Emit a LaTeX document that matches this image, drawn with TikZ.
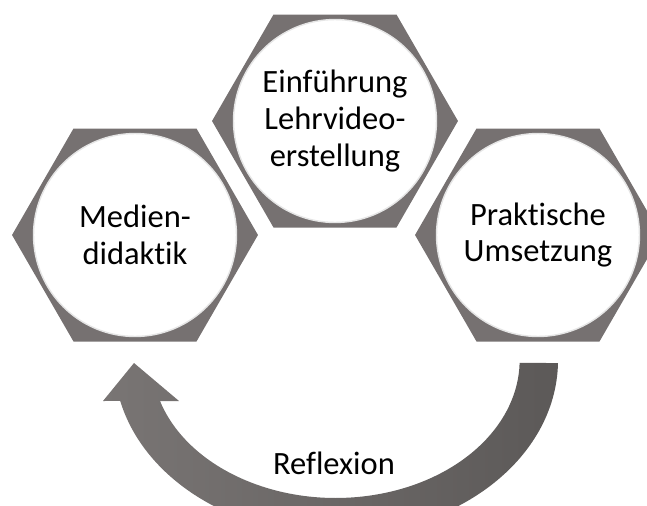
\documentclass[tikz,border=0pt]{standalone}
\usepackage{fontspec}
\setmainfont{Carlito}[Ligatures=NoCommon]
\usetikzlibrary{shapes.geometric}
\definecolor{hexgray}{RGB}{118,113,113}
\definecolor{arrowlight}{RGB}{121,117,116}
\definecolor{arrowdark}{RGB}{92,89,88}
\begin{document}
\begin{tikzpicture}[x=0.02cm,y=-0.02cm,
hexa/.style={regular polygon,regular polygon sides=6,fill=hexgray,minimum size=4.92cm,inner sep=0pt},
disc/.style={circle,fill=white,draw=gray!20,line width=0.8pt,minimum size=4.06cm,inner sep=0pt,align=center,font=\fontsize{18.5}{20.8}\selectfont},
label text/.style={font=\fontsize{18.5}{20.8}\selectfont}]
\useasboundingbox (0,0) rectangle (647,505);
\clip (0,0) rectangle (647,505);
% hexagons with white discs
\node[hexa](hexleft) at (135,235){};
\node[hexa](hextop) at (335,121){};
\node[hexa](hexright) at (538,235){};
\node[disc](medien) at (hexleft){Medien-\\didaktik};
\node[disc](einfuehrung) at (hextop){Einführung\\Lehrvideo-\\erstellung};
\node[disc](praxis) at (hexright){Praktische\\Umsetzung};
% curved arrow back to the start
\shade[left color=arrowlight,right color=arrowdark](558,363)arc[start angle=1,end angle=166.45,x radius=222,y radius=175]
--(103,401)--(134,363)--(179,401)--(160,401)
arc[start angle=162.7,end angle=1.25,x radius=184,y radius=138]--cycle;
\node[label text](reflexion) at (334,463){Reflexion};
\end{tikzpicture}
\end{document}
